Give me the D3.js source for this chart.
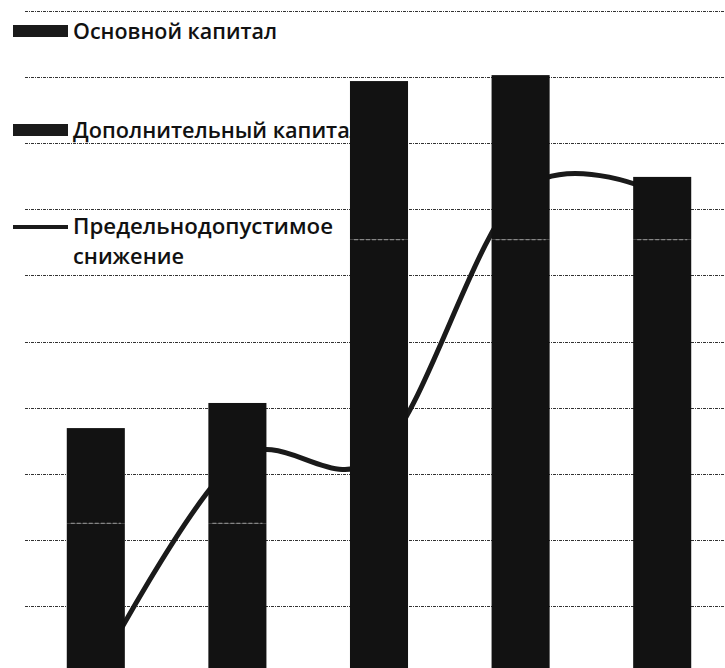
<!DOCTYPE html>
<html>
<head>
<meta charset="utf-8">
<script src="https://cdn.jsdelivr.net/npm/d3@7"></script>
<style>
  html, body { margin: 0; padding: 0; background: #fff; }
  svg { display: block; }
</style>
</head>
<body>
<svg id="chart" width="725" height="668"></svg>
<script>
// ---- data (y in arbitrary units, gridline step = 100) ----
const categories = ["1", "2", "3", "4", "5"];
const basicCapital = [225, 225, 654, 654, 654];          // Основной капитал (bottom segment)
const additionalCapital = [144, 182, 240, 249, 95];     // Дополнительный капитал (top segment)
const allowedDecrease = [-5, 321, 328, 726, 722];       // Предельнодопустимое снижение (line)
const gridTicks = [0, 100, 200, 300, 400, 500, 600, 700, 800, 900, 1000];
const legendLabels = ["Основной капитал", "Дополнительный капитал", "Предельнодопустимое", "снижение"];

const svg = d3.select("#chart");
const W = 725;

const x = d3.scaleBand().domain(categories).range([25, 733]).paddingInner(0.59).paddingOuter(0.295);
const y = d3.scaleLinear().domain([0, 1000]).range([672, 11]);

// gridlines
svg.append("g").selectAll("line").data(gridTicks).join("line")
  .attr("x1", 25).attr("x2", W)
  .attr("y1", d => Math.round(y(d)) + 0.5).attr("y2", d => Math.round(y(d)) + 0.5)
  .attr("stroke", "#333").attr("stroke-width", 1).attr("stroke-dasharray", "3 1 1 1");

// legend (drawn under bars, as in the picture)
const font = "'Open Sans', Lato, sans-serif";
const lg = svg.append("g").attr("font-family", font).attr("font-size", 21)
  .attr("font-weight", 600).attr("fill", "#111");
lg.append("rect").attr("x", 13).attr("y", 25).attr("width", 55).attr("height", 12).attr("fill", "#1a1a1a");
lg.append("text").attr("x", 73).attr("y", 39).text(legendLabels[0])
  .attr("textLength", 204).attr("lengthAdjust", "spacingAndGlyphs");
lg.append("rect").attr("x", 13).attr("y", 124).attr("width", 55).attr("height", 12).attr("fill", "#1a1a1a");
lg.append("text").attr("x", 73).attr("y", 138).text(legendLabels[1])
  .attr("textLength", 290).attr("lengthAdjust", "spacingAndGlyphs");
lg.append("line").attr("x1", 13).attr("x2", 68).attr("y1", 227).attr("y2", 227)
  .attr("stroke", "#1a1a1a").attr("stroke-width", 4);
lg.append("text").attr("x", 73).attr("y", 234).text(legendLabels[2])
  .attr("textLength", 260).attr("lengthAdjust", "spacingAndGlyphs");
lg.append("text").attr("x", 73).attr("y", 264).text(legendLabels[3])
  .attr("textLength", 111).attr("lengthAdjust", "spacingAndGlyphs");

// line (behind bars)
const lineGen = d3.line()
  .x((d, i) => x(categories[i]) + x.bandwidth() / 2)
  .y(d => y(d))
  .curve(d3.curveCardinal.tension(0));
svg.append("path").datum(allowedDecrease)
  .attr("d", lineGen)
  .attr("fill", "none").attr("stroke", "#1a1a1a").attr("stroke-width", 5)
  .attr("stroke-linecap", "round");

// stacked bars
const bars = svg.append("g");
categories.forEach((c, i) => {
  const b0 = basicCapital[i], b1 = basicCapital[i] + additionalCapital[i];
  bars.append("rect").attr("x", x(c)).attr("width", x.bandwidth())
    .attr("y", y(b0)).attr("height", y(0) - y(b0)).attr("fill", "#121212");
  bars.append("rect").attr("x", x(c)).attr("width", x.bandwidth())
    .attr("y", y(b1)).attr("height", y(b0) - y(b1)).attr("fill", "#121212");
  bars.append("line").attr("x1", x(c) + 4).attr("x2", x(c) + x.bandwidth() - 4)
    .attr("y1", y(b0)).attr("y2", y(b0))
    .attr("stroke", "#9a9a9a").attr("stroke-width", 1).attr("stroke-dasharray", "4 2");
});
</script>
</body>
</html>
